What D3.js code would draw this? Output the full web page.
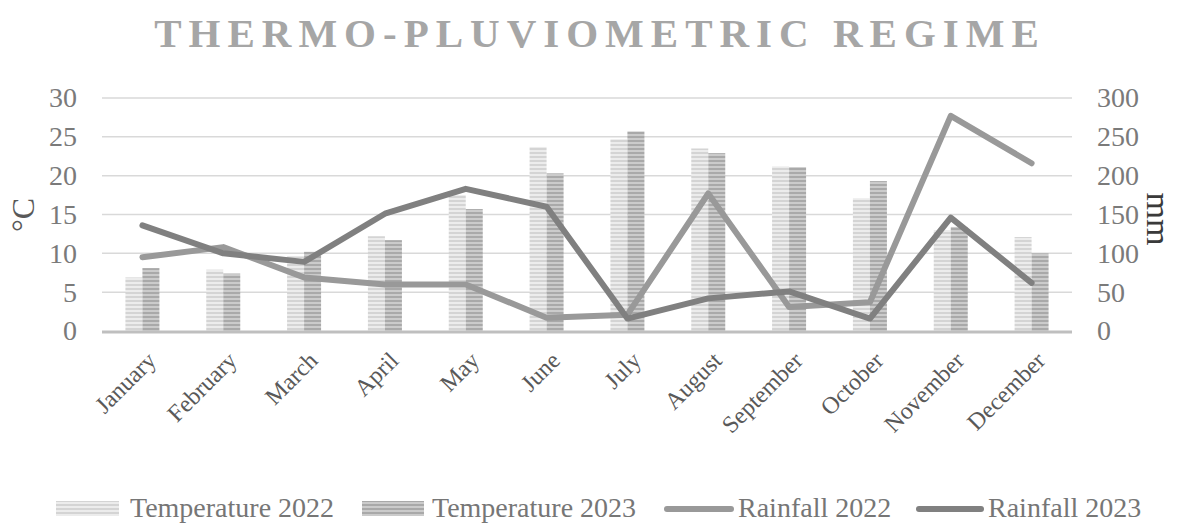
<!DOCTYPE html>
<html>
<head>
<meta charset="utf-8">
<script src="https://cdn.jsdelivr.net/npm/d3@7"></script>
<style>
  html, body { margin: 0; padding: 0; background: #ffffff; }
  svg { display: block; font-family: "Liberation Serif", "Times New Roman", serif; }
</style>
</head>
<body>
<svg id="chart" width="1178" height="523"></svg>
<script>
// Monthly data
const months = ["January", "February", "March", "April", "May", "June",
                "July", "August", "September", "October", "November", "December"];
const temp2022 = [6.9, 7.9, 9.6, 12.2, 17.5, 23.7, 24.7, 23.5, 21.2, 17.1, 13.0, 12.1];
const temp2023 = [8.1, 7.4, 10.2, 11.7, 15.7, 20.3, 25.7, 22.9, 21.1, 19.3, 13.4, 10.0];
const rain2022 = [95, 108, 69, 60, 60, 17, 21, 177, 31, 37, 277, 216];
const rain2023 = [136, 100, 89, 151, 183, 160, 16, 42, 51, 16, 146, 62];
const tempTicks = [0, 5, 10, 15, 20, 25, 30];
const rainTicks = [0, 50, 100, 150, 200, 250, 300];

const svg = d3.select("#chart");
const plotLeft = 102, plotRight = 1072, plotTop = 98, plotBottom = 331;
const serif = "Liberation Serif, Times New Roman, serif";

// Striped fills for the temperature bars
const defs = svg.append("defs");
function stripes(id, dark, light) {
  const p = defs.append("pattern").attr("id", id)
    .attr("patternUnits", "userSpaceOnUse").attr("width", 6).attr("height", 4);
  p.append("rect").attr("width", 6).attr("height", 4).attr("fill", light);
  p.append("rect").attr("y", 0).attr("width", 6).attr("height", 2).attr("fill", dark);
}
stripes("s2022", "#d4d4d4", "#ececec");
stripes("s2023", "#a9a9a9", "#cbcbcb");

const x0 = d3.scaleBand().domain(months).range([plotLeft, plotRight]).padding(0);
const groupW = 34;
const x1 = d3.scaleBand().domain(["t2022", "t2023"])
  .range([(x0.bandwidth() - groupW) / 2, (x0.bandwidth() + groupW) / 2]);
const yT = d3.scaleLinear().domain([0, 30]).range([plotBottom, plotTop]);
const yR = d3.scaleLinear().domain([0, 300]).range([plotBottom, plotTop]);

// Title
svg.append("text")
  .attr("x", 600).attr("y", 47)
  .attr("text-anchor", "middle")
  .attr("font-family", serif)
  .attr("font-size", 41).attr("font-weight", "bold")
  .attr("letter-spacing", 7)
  .attr("fill", "#a6a6a6")
  .text("THERMO-PLUVIOMETRIC REGIME");

// Horizontal gridlines
svg.append("g").selectAll("line").data(tempTicks.slice(1)).join("line")
  .attr("x1", plotLeft).attr("x2", plotRight)
  .attr("y1", d => yT(d)).attr("y2", d => yT(d))
  .attr("stroke", "#d9d9d9").attr("stroke-width", 1.5);

// Left axis labels
const leftAxis = d3.axisLeft(yT).tickValues(tempTicks).tickSize(0).tickPadding(25);
const gL = svg.append("g").attr("transform", `translate(${plotLeft},0)`).call(leftAxis);
gL.select(".domain").remove();
gL.selectAll("text").attr("font-size", 28).attr("fill", "#7a7a7a")
  .attr("font-family", serif);

// Right axis labels
const rightAxis = d3.axisRight(yR).tickValues(rainTicks).tickSize(0).tickPadding(25);
const gR = svg.append("g").attr("transform", `translate(${plotRight},0)`).call(rightAxis);
gR.select(".domain").remove();
gR.selectAll("text").attr("font-size", 28).attr("fill", "#7a7a7a")
  .attr("font-family", serif);

// Axis titles
svg.append("text").attr("transform", "translate(34,215) rotate(-90)")
  .attr("text-anchor", "middle").attr("font-family", serif)
  .attr("font-size", 32).attr("fill", "#595959").text("°C");
svg.append("text").attr("transform", "translate(1147,219) rotate(90)")
  .attr("text-anchor", "middle").attr("font-family", serif)
  .attr("font-size", 34).attr("fill", "#3a3a3a").text("mm");

// Bars
const barData = months.map((m, i) => ({ m, vals: [
  { k: "t2022", v: temp2022[i] }, { k: "t2023", v: temp2023[i] }] }));
const groups = svg.append("g").selectAll("g").data(barData).join("g")
  .attr("transform", d => `translate(${x0(d.m)},0)`);
groups.selectAll("rect").data(d => d.vals).join("rect")
  .attr("x", d => x1(d.k)).attr("width", x1.bandwidth())
  .attr("y", d => yT(d.v)).attr("height", d => plotBottom - yT(d.v))
  .attr("fill", d => d.k === "t2022" ? "url(#s2022)" : "url(#s2023)");

// Category axis baseline
svg.append("line").attr("x1", plotLeft).attr("x2", plotRight)
  .attr("y1", plotBottom + 1).attr("y2", plotBottom + 1)
  .attr("stroke", "#bfbfbf").attr("stroke-width", 3);

// Month labels
const xAxis = d3.axisBottom(x0).tickSize(0).tickPadding(0);
const gX = svg.append("g").attr("transform", `translate(0,${plotBottom})`).call(xAxis);
gX.select(".domain").remove();
gX.selectAll("text")
  .attr("font-size", 24).attr("fill", "#595959")
  .attr("font-family", serif)
  .attr("text-anchor", "end")
  .attr("dy", 0)
  .attr("transform", "translate(15,31) rotate(-45)");

// Rainfall lines
const cx = m => x0(m) + x0.bandwidth() / 2;
const line = d3.line().x((d, i) => cx(months[i])).y(d => yR(d));
svg.append("path").datum(rain2022).attr("d", line)
  .attr("fill", "none").attr("stroke", "#999999").attr("stroke-width", 6)
  .attr("stroke-linecap", "round").attr("stroke-linejoin", "round");
svg.append("path").datum(rain2023).attr("d", line)
  .attr("fill", "none").attr("stroke", "#808080").attr("stroke-width", 6)
  .attr("stroke-linecap", "round").attr("stroke-linejoin", "round");

// Legend
const legend = svg.append("g").attr("font-size", 28).attr("fill", "#767676")
  .attr("font-family", serif);
const lg = [
  { label: "Temperature 2022", type: "bar", fill: "url(#s2022)", x: 56, w: 63, tx: 130 },
  { label: "Temperature 2023", type: "bar", fill: "url(#s2023)", x: 362, w: 62, tx: 432 },
  { label: "Rainfall 2022", type: "line", stroke: "#999999", x: 667, w: 64, tx: 738 },
  { label: "Rainfall 2023", type: "line", stroke: "#808080", x: 919, w: 62, tx: 988 }
];
lg.forEach(d => {
  if (d.type === "bar") {
    legend.append("rect").attr("x", d.x).attr("y", 501).attr("width", d.w).attr("height", 15)
      .attr("fill", d.fill);
  } else {
    legend.append("line").attr("x1", d.x).attr("x2", d.x + d.w)
      .attr("y1", 509).attr("y2", 509)
      .attr("stroke", d.stroke).attr("stroke-width", 6).attr("stroke-linecap", "round");
  }
  legend.append("text").attr("x", d.tx).attr("y", 517).text(d.label);
});
</script>
</body>
</html>
